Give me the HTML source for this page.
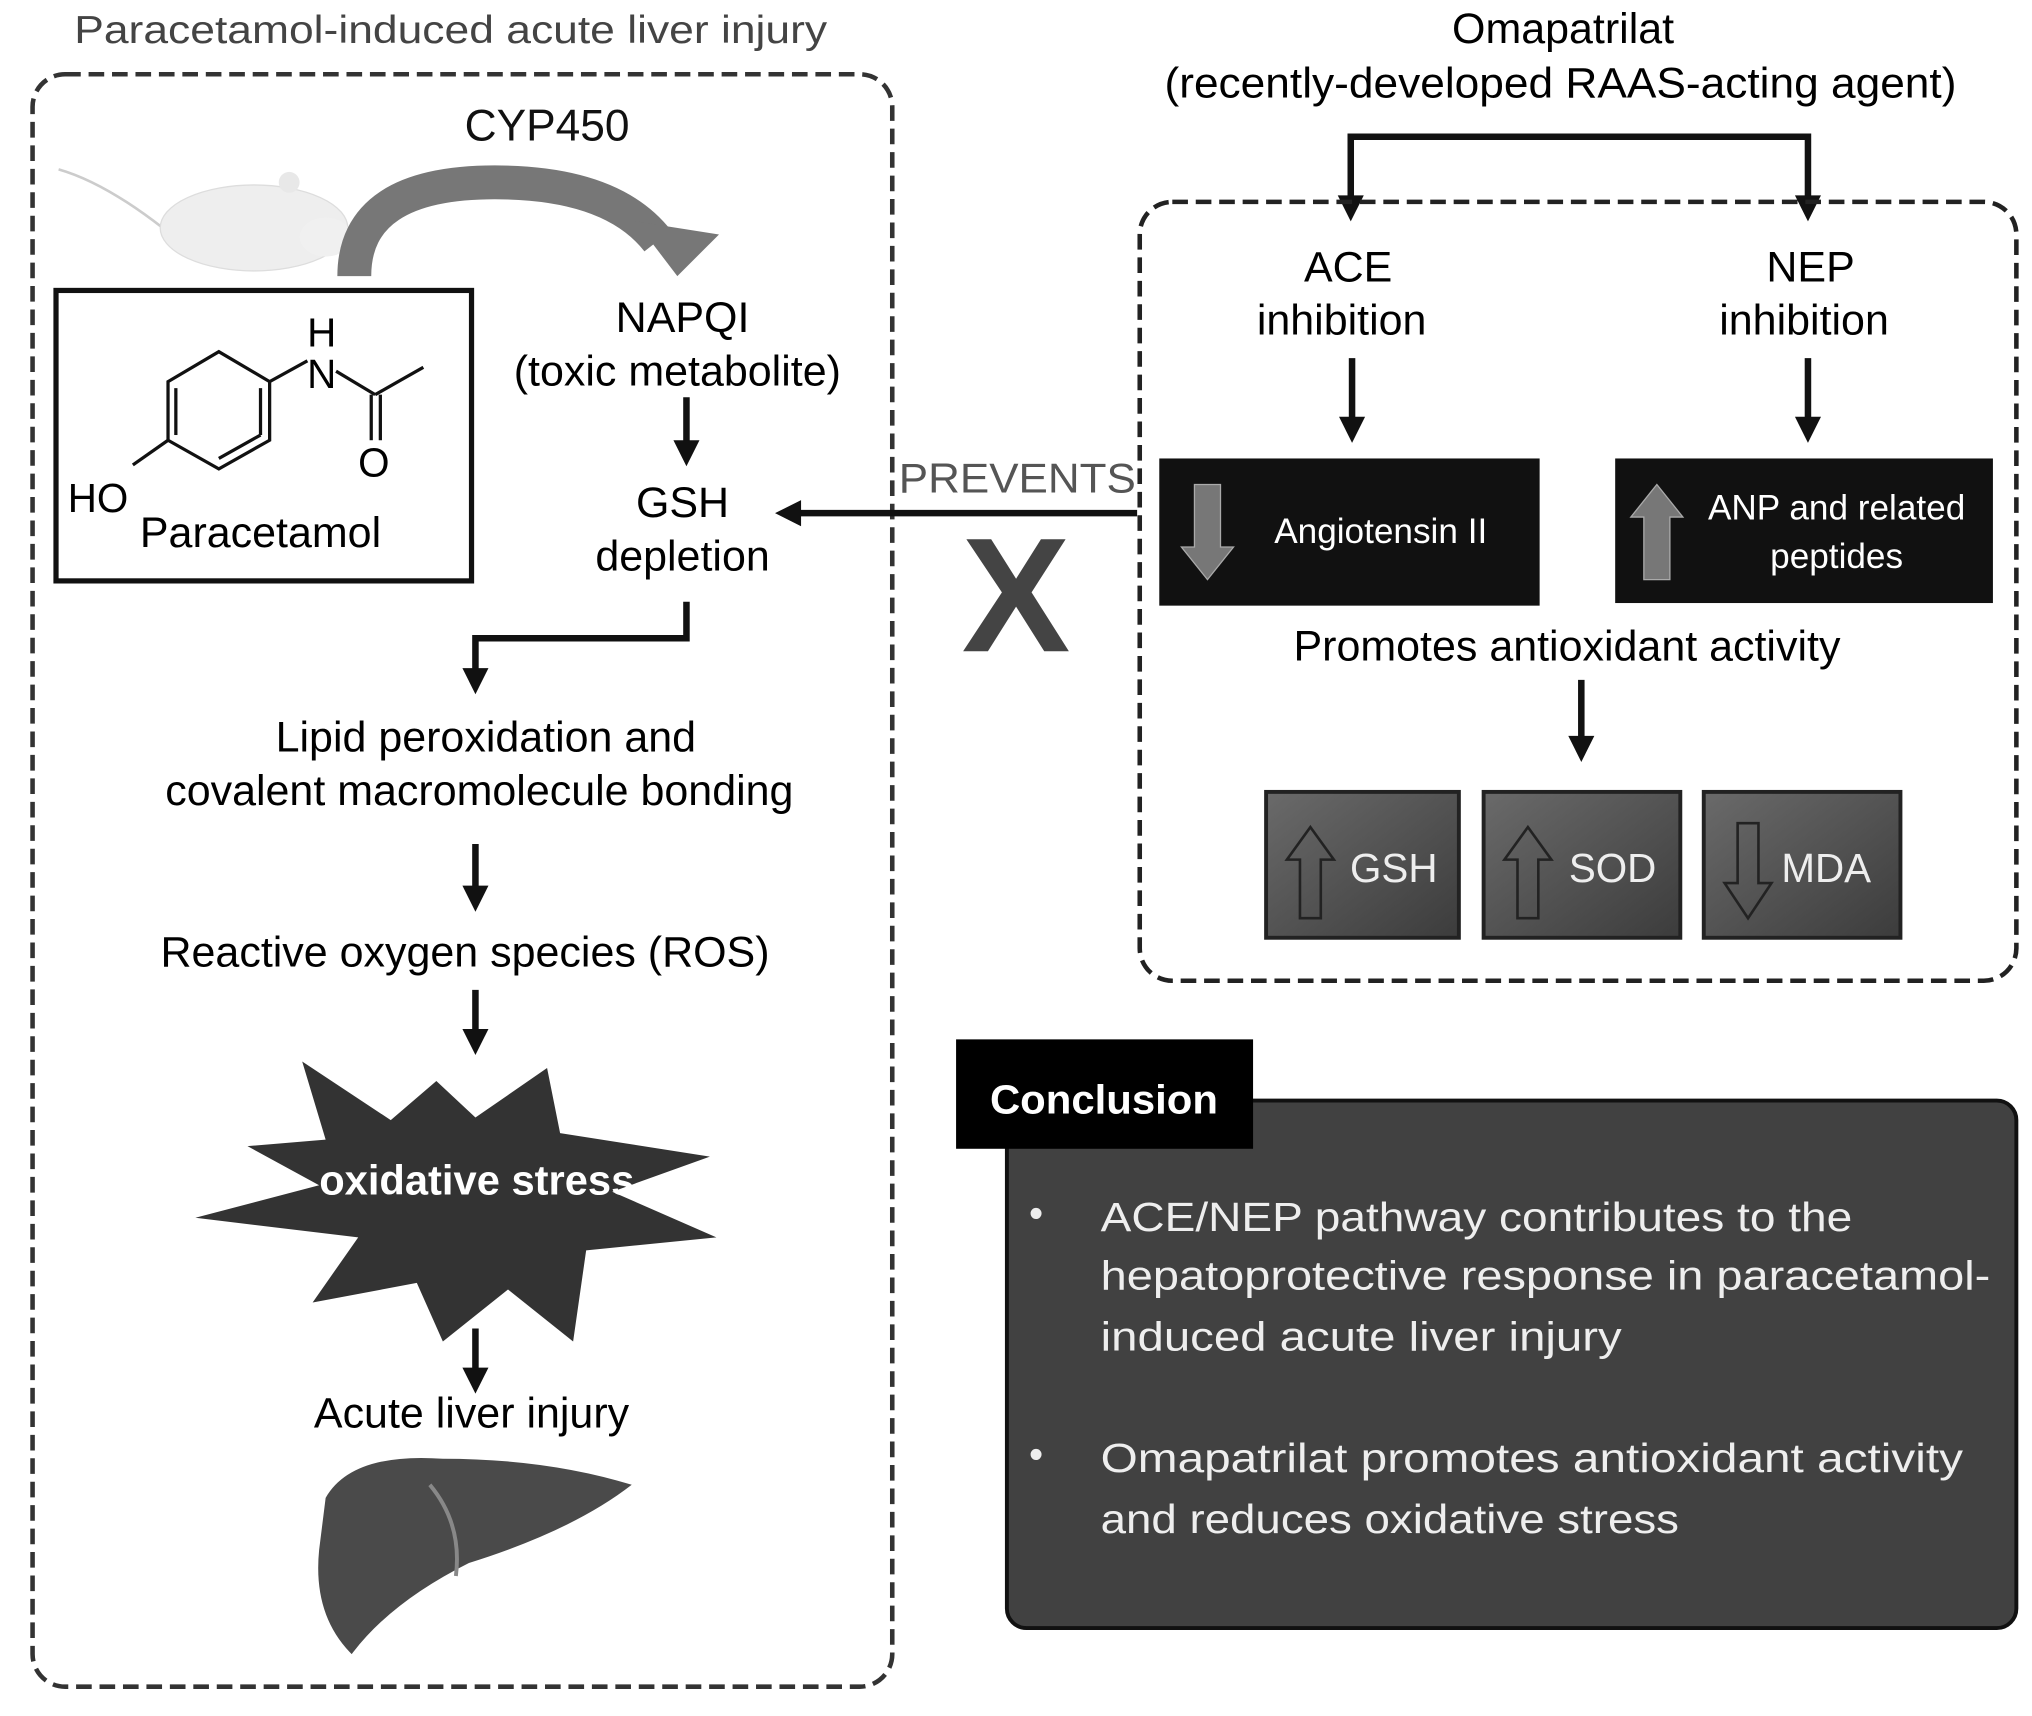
<!DOCTYPE html>
<html><head><meta charset="utf-8"><style>html,body{margin:0;padding:0;background:#fff}svg{display:block}text{font-family:"Liberation Sans",sans-serif}</style></head>
<body>
<svg width="2032" height="1716" viewBox="0 0 1560 1317.5" preserveAspectRatio="none" xmlns="http://www.w3.org/2000/svg">
<defs>
<linearGradient id="g" x1="0" y1="0" x2="1" y2="1"><stop offset="0" stop-color="#6a6a6a"/><stop offset="1" stop-color="#3c3c3c"/></linearGradient>
</defs>
<!-- LEFT -->
<text x="57" y="33" font-size="30" fill="#444" textLength="578" lengthAdjust="spacingAndGlyphs">Paracetamol-induced acute liver injury</text>
<rect x="25" y="57" width="660" height="1238" rx="25" fill="none" stroke="#333" stroke-width="3.5" stroke-dasharray="12 6"/>
<text x="420" y="108" font-size="34" text-anchor="middle" fill="#111">CYP450</text>
<!-- mouse -->
<path d="M45 130 Q80 140 125 175" stroke="#ccc" stroke-width="2" fill="none"/>
<ellipse cx="195" cy="175" rx="72" ry="33" fill="#eee" stroke="#ddd"/>
<ellipse cx="250" cy="182" rx="20" ry="15" fill="#f0f0f0"/>
<circle cx="222" cy="140" r="8" fill="#e8e8e8"/>
<!-- curved arrow -->
<path d="M272 212 Q272 140 380 140 Q470 140 505 185" stroke="#777" stroke-width="26" fill="none"/>
<polygon points="488,170 552,180 520,212" fill="#777"/>
<!-- paracetamol box -->
<rect x="43" y="223" width="319" height="223" fill="#fff" stroke="#111" stroke-width="4"/>
<g stroke="#111" stroke-width="2.5" fill="none">
<polygon points="168,270 207,293 207,338 168,360 129,338 129,293"/>
<line x1="200" y1="298" x2="200" y2="334"/><line x1="135" y1="298" x2="135" y2="334"/><line x1="168" y1="352" x2="200" y2="334"/>
<line x1="207" y1="293" x2="236" y2="277"/><line x1="258" y1="285" x2="288" y2="303"/><line x1="288" y1="303" x2="325" y2="282"/>
<line x1="285" y1="303" x2="285" y2="338"/><line x1="292" y1="303" x2="292" y2="338"/>
<line x1="129" y1="338" x2="102" y2="357"/>
</g>
<text x="247" y="266" font-size="31" text-anchor="middle">H</text>
<text x="247" y="298" font-size="31" text-anchor="middle">N</text>
<text x="287" y="366" font-size="31" text-anchor="middle">O</text>
<text x="52" y="393" font-size="31">HO</text>
<text x="200" y="420" font-size="33" text-anchor="middle">Paracetamol</text>
<text x="524" y="255" font-size="33" text-anchor="middle">NAPQI</text>
<text x="520" y="296" font-size="33" text-anchor="middle">(toxic metabolite)</text>
<line x1="527" y1="305" x2="527" y2="340" stroke="#111" stroke-width="5"/><polygon points="517,338 537,338 527,358" fill="#111"/>
<text x="524" y="397" font-size="33" text-anchor="middle">GSH</text>
<text x="524" y="438" font-size="33" text-anchor="middle">depletion</text>
<polyline points="527,462 527,490 365,490 365,515" stroke="#111" stroke-width="5" fill="none"/><polygon points="355,513 375,513 365,533" fill="#111"/>
<text x="373" y="577" font-size="33" text-anchor="middle">Lipid peroxidation and</text>
<text x="368" y="618" font-size="33" text-anchor="middle">covalent macromolecule bonding</text>
<line x1="365" y1="648" x2="365" y2="682" stroke="#111" stroke-width="5"/><polygon points="355,680 375,680 365,700" fill="#111"/>
<text x="357" y="742" font-size="33" text-anchor="middle">Reactive oxygen species (ROS)</text>
<line x1="365" y1="760" x2="365" y2="792" stroke="#111" stroke-width="5"/><polygon points="355,790 375,790 365,810" fill="#111"/>
<polygon fill="#333" points="232,815 300,860 335,830 365,858 420,820 430,870 545,888 470,915 550,950 450,960 440,1030 390,990 340,1030 320,985 240,1000 275,950 150,935 245,910 190,880 250,875" />
<text x="366" y="917" font-size="32" font-weight="bold" fill="#fff" text-anchor="middle">oxidative stress</text>
<line x1="365" y1="1020" x2="365" y2="1052" stroke="#111" stroke-width="5"/><polygon points="355,1050 375,1050 365,1070" fill="#111"/>
<text x="362" y="1096" font-size="33" text-anchor="middle">Acute liver injury</text>
<path d="M250 1150 Q270 1115 340 1120 Q420 1120 485 1140 Q440 1175 360 1200 Q300 1230 270 1270 Q240 1240 245 1190 Z" fill="#4a4a4a"/>
<path d="M330 1140 Q355 1170 350 1210" stroke="#888" stroke-width="3" fill="none"/>
<!-- RIGHT -->
<text x="1200" y="33" font-size="33" text-anchor="middle">Omapatrilat</text>
<text x="1198" y="75" font-size="33" text-anchor="middle" textLength="608" lengthAdjust="spacingAndGlyphs">(recently-developed RAAS-acting agent)</text>
<polyline points="1037,152 1037,105 1388,105 1388,152" stroke="#111" stroke-width="5" fill="none"/>
<polygon points="1027,150 1047,150 1037,170" fill="#111"/><polygon points="1378,150 1398,150 1388,170" fill="#111"/>
<rect x="875" y="155" width="673" height="598" rx="25" fill="none" stroke="#222" stroke-width="3.5" stroke-dasharray="12 6"/>
<text x="1035" y="216" font-size="33" text-anchor="middle">ACE</text>
<text x="1030" y="257" font-size="33" text-anchor="middle">inhibition</text>
<text x="1390" y="216" font-size="33" text-anchor="middle">NEP</text>
<text x="1385" y="257" font-size="33" text-anchor="middle">inhibition</text>
<line x1="1038" y1="275" x2="1038" y2="322" stroke="#111" stroke-width="5"/><polygon points="1028,320 1048,320 1038,340" fill="#111"/>
<line x1="1388" y1="275" x2="1388" y2="322" stroke="#111" stroke-width="5"/><polygon points="1378,320 1398,320 1388,340" fill="#111"/>
<rect x="890" y="352" width="292" height="113" fill="#111"/>
<polygon points="917,372 937,372 937,420 947,420 927,445 907,420 917,420" fill="#777" stroke="#aaa" stroke-width="1"/>
<text x="1060" y="417" font-size="27" fill="#fff" text-anchor="middle">Angiotensin II</text>
<rect x="1240" y="352" width="290" height="111" fill="#111"/>
<polygon points="1262,445 1282,445 1282,397 1292,397 1272,372 1252,397 1262,397" fill="#777" stroke="#aaa" stroke-width="1"/>
<text x="1410" y="399" font-size="27" fill="#fff" text-anchor="middle">ANP and related</text>
<text x="1410" y="436" font-size="27" fill="#fff" text-anchor="middle">peptides</text>
<text x="1203" y="507" font-size="33" text-anchor="middle">Promotes antioxidant activity</text>
<line x1="1214" y1="522" x2="1214" y2="567" stroke="#111" stroke-width="5"/><polygon points="1204,565 1224,565 1214,585" fill="#111"/>
<g stroke="#222" stroke-width="3">
<rect x="972" y="608" width="148" height="112" fill="url(#g)"/>
<rect x="1139" y="608" width="151" height="112" fill="url(#g)"/>
<rect x="1308" y="608" width="151" height="112" fill="url(#g)"/>
</g>
<g fill="none" stroke="#222" stroke-width="2">
<polygon points="998,705 1014,705 1014,660 1024,660 1006,635 988,660 998,660"/>
<polygon points="1165,705 1181,705 1181,660 1191,660 1173,635 1155,660 1165,660"/>
<polygon points="1334,632 1350,632 1350,678 1360,678 1342,705 1324,678 1334,678"/>
</g>
<text x="1070" y="677" font-size="31" fill="#eee" text-anchor="middle">GSH</text>
<text x="1238" y="677" font-size="31" fill="#eee" text-anchor="middle">SOD</text>
<text x="1402" y="677" font-size="31" fill="#eee" text-anchor="middle">MDA</text>
<!-- prevents -->
<text x="690" y="378" font-size="32" fill="#555" textLength="182" lengthAdjust="spacingAndGlyphs">PREVENTS</text>
<line x1="873" y1="394" x2="612" y2="394" stroke="#111" stroke-width="5"/><polygon points="615,384 615,404 595,394" fill="#111"/>
<text x="780" y="500" font-size="125" font-weight="bold" fill="#444" text-anchor="middle">X</text>
<!-- conclusion -->
<rect x="773" y="845" width="775" height="405" rx="15" fill="#414141" stroke="#111" stroke-width="3"/>
<rect x="734" y="798" width="228" height="84" fill="#000"/>
<text x="760" y="855" font-size="31" font-weight="bold" fill="#fff" textLength="175" lengthAdjust="spacingAndGlyphs">Conclusion</text>
<g fill="#eee" font-size="31">
<text x="790" y="942">•</text>
<text x="845" y="945" textLength="577" lengthAdjust="spacingAndGlyphs">ACE/NEP pathway contributes to the</text>
<text x="845" y="990" textLength="683" lengthAdjust="spacingAndGlyphs">hepatoprotective response in paracetamol-</text>
<text x="845" y="1037" textLength="400" lengthAdjust="spacingAndGlyphs">induced acute liver injury</text>
<text x="790" y="1127">•</text>
<text x="845" y="1130" textLength="662" lengthAdjust="spacingAndGlyphs">Omapatrilat promotes antioxidant activity</text>
<text x="845" y="1177" textLength="444" lengthAdjust="spacingAndGlyphs">and reduces oxidative stress</text>
</g>
</svg>
</body></html>
